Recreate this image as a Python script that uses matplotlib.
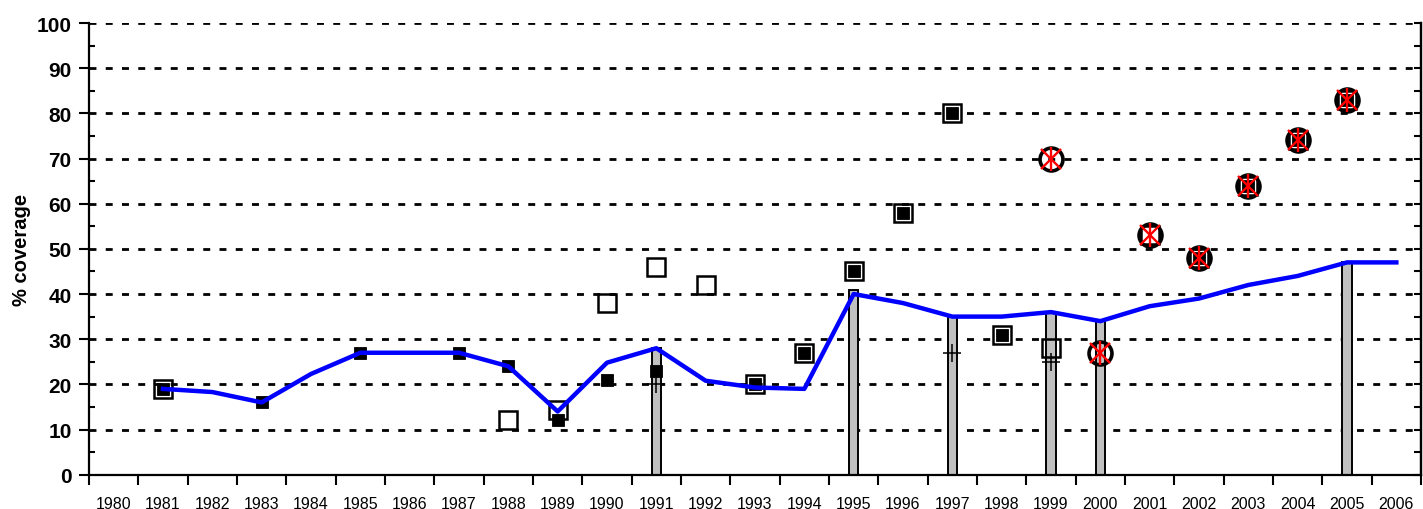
import numpy as np
import matplotlib
matplotlib.use("Agg")
import matplotlib.pyplot as plt
from matplotlib.ticker import MultipleLocator, FixedLocator, NullFormatter

plt.rcParams['font.family'] = ['Liberation Sans', 'DejaVu Sans']
plt.rcParams['lines.scale_dashes'] = False

years = list(range(1980, 2007))
year_labels = [str(y) for y in years]

# blue line (estimate)
line_years = list(range(1981, 2007))
line_vals = [19, 18.3, 16, 22.3, 27, 27, 27, 24, 14, 24.8, 28, 20.8, 19.3, 19,
             40, 38, 35, 35, 36, 34, 37.3, 39, 42, 44, 47, 47]

# black filled squares
fill_sq_years = [1981, 1983, 1985, 1987, 1988, 1989, 1990, 1991, 1993, 1994,
                 1995, 1996, 1997, 1998, 2002, 2003, 2004, 2005]
fill_sq_vals = [19, 16, 27, 27, 24, 12, 21, 23, 20, 27,
                45, 58, 80, 31, 48, 64, 74, 83]

# open squares
open_sq_years = [1981, 1988, 1989, 1990, 1991, 1992, 1993, 1994, 1995, 1996,
                 1997, 1998, 1999, 2001, 2002, 2003, 2004, 2005]
open_sq_vals = [19, 12, 14.3, 38, 46, 42, 20, 27, 45, 58,
                80, 31, 28, 53, 48, 64, 74, 83]

# grey bars
bar_years = [1991, 1995, 1997, 1999, 2000, 2005]
bar_vals = [28, 41, 35, 36, 34, 47]

# plus markers
plus_years = [1991, 1997, 1999]
plus_vals = [20, 27, 25]

# circles and red stars
circ_years = [1999, 2000, 2001, 2002, 2003, 2004, 2005]
circ_vals = [70, 27, 53, 48, 64, 74, 83]

def xpos(yrs):
    return [years.index(y) for y in yrs]

fig = plt.figure(figsize=(14.23, 5.10), dpi=100)
ax = fig.add_axes([89/1423, 34.3/510, (1421-89)/1423, (475.7-24)/510])

# grid
for v in range(10, 101, 10):
    ax.axhline(v, color='black', lw=2.0, linestyle=(0, (5, 6.7)), zorder=1)

ax.bar(xpos(bar_years), bar_vals, width=0.19, color='#C0C0C0',
       edgecolor='black', linewidth=1.4, zorder=2)

ax.plot(xpos(circ_years), circ_vals, linestyle='none', marker='o', ms=16.5,
        mfc='none', mec='black', mew=2.6, zorder=3)
ax.plot(xpos(open_sq_years), open_sq_vals, linestyle='none', marker='s', ms=13.5,
        mfc='none', mec='black', mew=1.8, zorder=4)
ax.plot(xpos(fill_sq_years), fill_sq_vals, linestyle='none', marker='s', ms=8.5,
        mfc='black', mec='black', mew=0.6, zorder=5)
ax.plot(xpos(plus_years), plus_vals, linestyle='none', marker='+', ms=12.5,
        mec='black', mew=1.1, zorder=6)
ax.plot(xpos(line_years), line_vals, color='#0000FF', lw=3.2, zorder=7,
        solid_joinstyle='round')
ax.plot(xpos(circ_years), circ_vals, linestyle='none', marker='x', ms=15,
        mec='#FF0000', mew=1.7, zorder=8)
ax.plot(xpos(circ_years), circ_vals, linestyle='none', marker='|', ms=17,
        mec='#FF0000', mew=1.7, zorder=8)

ax.set_xlim(-0.5, len(years) - 0.5)
ax.set_ylim(0, 100)

# x ticks: labels at centres, marks at boundaries
ax.xaxis.set_major_locator(FixedLocator(range(len(years))))
ax.set_xticklabels(year_labels, fontsize=11.5)
ax.xaxis.set_minor_locator(FixedLocator(np.arange(-0.5, len(years), 1.0)))
ax.tick_params(axis='x', which='major', length=0, pad=15)
ax.tick_params(axis='x', which='minor', length=7.5, width=1.5, direction='out')

ax.yaxis.set_major_locator(MultipleLocator(10))
ax.yaxis.set_minor_locator(MultipleLocator(5))
ax.tick_params(axis='y', which='major', length=7, width=1.5, direction='out',
               labelsize=15, pad=5.5)
ax.tick_params(axis='y', which='minor', length=4, width=1.5, direction='in')
for t in ax.get_yticklabels():
    t.set_fontweight('bold')

ax.set_ylabel('% coverage', fontsize=14.5, fontweight='bold', labelpad=4)

for s in ['left', 'bottom', 'right']:
    ax.spines[s].set_linewidth(1.6)
ax.spines['top'].set_visible(False)

ax2 = ax.twinx()
ax2.set_ylim(0, 100)
ax2.yaxis.set_major_locator(MultipleLocator(5))
ax2.yaxis.set_major_formatter(NullFormatter())
ax2.tick_params(axis='y', which='major', length=5, width=1.5, direction='in')
for s in ['left', 'bottom', 'top']:
    ax2.spines[s].set_visible(False)
ax2.spines['right'].set_linewidth(1.6)

fig.savefig('out.png', dpi=100)
